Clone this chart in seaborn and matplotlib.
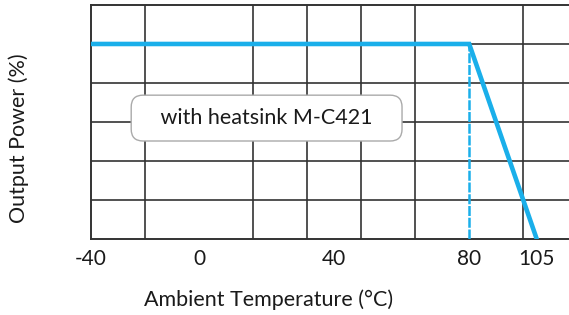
#!/usr/bin/env python3
import numpy as np
import seaborn as sns
import matplotlib.pyplot as plt
from matplotlib.ticker import FixedLocator, NullFormatter

# derating curve
temps = [-40, 80, 105]
power = [100, 100, 0]
knee_temp = 80
tick_temps = [-40, 0, 40, 80, 105]
tick_labels = ["-40", "0", "40", "80", "105"]
note = "with heatsink M-C421"

# the datasheet axis is not drawn to scale: map temperatures onto grid columns
T_ANCHOR = [-40, 0, 40, 80, 105, 130]
COL_ANCHOR = [0, 2, 4.5, 7, 8.25, 9.5]
BLUE = "#1AAFEA"
INK = "#1a1a1a"


def fwd(t):
    return np.interp(t, T_ANCHOR, COL_ANCHOR)


def inv(c):
    return np.interp(c, COL_ANCHOR, T_ANCHOR)


def main():
    sns.set_style("white")
    plt.rcParams["font.family"] = ["Lato", "DejaVu Sans"]

    fig = plt.figure(figsize=(5.69, 3.15), dpi=100)
    ax = fig.add_axes([0.160, 0.2413, 0.845, 0.7429])
    ax.set_xscale("function", functions=(fwd, inv))

    sns.lineplot(x=temps, y=power, color=BLUE, lw=3.3, ax=ax, zorder=3,
                 solid_joinstyle="miter")
    ax.plot([knee_temp, knee_temp], [0, 100], color=BLUE, lw=1.8,
            ls=(0, (4, 0.7)), zorder=3)

    ax.set_xlim(-40, inv(8.9))
    ax.set_ylim(0, 120)

    ax.xaxis.set_major_locator(FixedLocator(tick_temps))
    ax.set_xticklabels(tick_labels)
    ax.xaxis.set_minor_locator(FixedLocator(inv(np.arange(1, 9))))
    ax.xaxis.set_minor_formatter(NullFormatter())
    ax.yaxis.set_major_locator(FixedLocator(range(20, 120, 20)))
    ax.set_yticklabels([])
    ax.tick_params(axis="both", which="both", length=0)
    ax.tick_params(axis="x", labelsize=15, pad=7, colors=INK)

    ax.grid(False)
    ax.grid(True, axis="x", which="minor", color="#333333", lw=1.2)
    ax.grid(True, axis="y", which="major", color="#333333", lw=1.2)
    ax.set_axisbelow(True)
    for side in ["left", "bottom", "top"]:
        ax.spines[side].set_color("#333333")
        ax.spines[side].set_linewidth(1.4)
    ax.spines["right"].set_visible(False)

    # spaces widen the rounded box to the datasheet's proportions
    ax.text(20, 62, "   " + note + "   ", ha="center", va="center",
            fontsize=15.5, color=INK, zorder=4,
            bbox=dict(boxstyle="round,pad=0.6,rounding_size=0.55",
                      fc="white", ec="#aaaaaa", lw=1.0))

    ax.set_xlabel("Ambient Temperature (°C)", fontsize=15.5, color=INK)
    ax.set_ylabel("Output Power (%)", fontsize=15.5, color=INK)
    ax.xaxis.set_label_coords(0.370, -0.215)
    ax.yaxis.set_label_coords(-0.128, 0.432)

    fig.savefig("out.png", dpi=100)


if __name__ == "__main__":
    main()
